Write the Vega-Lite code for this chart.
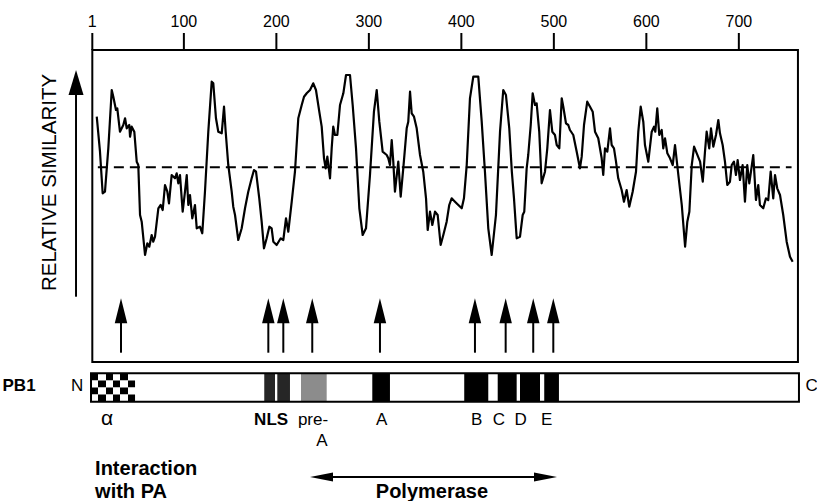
{
"$schema": "https://vega.github.io/schema/vega-lite/v6.json",
"width": 817, "height": 501, "padding": 0,
"autosize": {"type": "none"},
"config": {"view": {"stroke": null}, "font": "Liberation Sans", "text": {"font": "Liberation Sans", "color": "black"}},
"datasets": {
"curve": [
{"pos":5.8,"sim":245.3},{"pos":9.3,"sim":210.3},{"pos":12.2,"sim":168.7},{"pos":14.7,"sim":170.3},{"pos":18.3,"sim":213.7},{"pos":22.0,"sim":272},{"pos":23.7,"sim":265.3},{"pos":26.6,"sim":252},{"pos":28.0,"sim":253.7},{"pos":30.9,"sim":230.3},{"pos":34.5,"sim":237},{"pos":36.4,"sim":243.7},{"pos":38.2,"sim":233.7},{"pos":41.0,"sim":237},{"pos":41.8,"sim":225.3},{"pos":43.6,"sim":235.3},{"pos":46.4,"sim":230.3},{"pos":49.0,"sim":200.3},{"pos":50.7,"sim":197},{"pos":52.6,"sim":147},{"pos":54.4,"sim":140.3},{"pos":58.0,"sim":107},{"pos":60.5,"sim":118.7},{"pos":62.6,"sim":115.3},{"pos":65.2,"sim":127},{"pos":66.9,"sim":120.3},{"pos":68.8,"sim":125.3},{"pos":72.4,"sim":153.7},{"pos":74.9,"sim":157},{"pos":77.1,"sim":152},{"pos":79.6,"sim":177},{"pos":82.1,"sim":170.3},{"pos":83.9,"sim":158.7},{"pos":86.8,"sim":187},{"pos":90.4,"sim":183.7},{"pos":92.2,"sim":188.7},{"pos":94.0,"sim":178.7},{"pos":95.8,"sim":187},{"pos":98.7,"sim":150.3},{"pos":101.2,"sim":170.3},{"pos":103.1,"sim":187},{"pos":104.8,"sim":157},{"pos":106.6,"sim":167},{"pos":109.1,"sim":143.7},{"pos":112.0,"sim":157},{"pos":113.9,"sim":133.7},{"pos":117.4,"sim":135.3},{"pos":119.9,"sim":128.7},{"pos":122.8,"sim":170.3},{"pos":126.4,"sim":230.3},{"pos":130.1,"sim":280.3},{"pos":131.8,"sim":278.7},{"pos":134.7,"sim":243.7},{"pos":137.2,"sim":230.3},{"pos":140.9,"sim":228.7},{"pos":143.4,"sim":255.3},{"pos":145.2,"sim":230.3},{"pos":148.0,"sim":197},{"pos":151.7,"sim":170.3},{"pos":153.4,"sim":155.3},{"pos":155.3,"sim":147},{"pos":158.8,"sim":122},{"pos":162.5,"sim":133.7},{"pos":166.1,"sim":153.7},{"pos":169.6,"sim":170.3},{"pos":173.3,"sim":183.7},{"pos":175.8,"sim":192},{"pos":178.0,"sim":190.3},{"pos":181.5,"sim":163.7},{"pos":184.1,"sim":140.3},{"pos":186.6,"sim":113.7},{"pos":189.5,"sim":123.7},{"pos":192.4,"sim":135.3},{"pos":194.9,"sim":133.7},{"pos":196.7,"sim":120.3},{"pos":200.3,"sim":117},{"pos":204.7,"sim":123.7},{"pos":207.5,"sim":122},{"pos":210.4,"sim":143.7},{"pos":212.9,"sim":130.3},{"pos":216.6,"sim":160.3},{"pos":220.1,"sim":190.3},{"pos":223.7,"sim":243.7},{"pos":227.4,"sim":257},{"pos":229.9,"sim":265.3},{"pos":232.8,"sim":268.7},{"pos":236.4,"sim":272},{"pos":239.9,"sim":278.7},{"pos":242.8,"sim":272},{"pos":246.4,"sim":250.3},{"pos":249.0,"sim":235.3},{"pos":251.5,"sim":203.7},{"pos":253.3,"sim":193.7},{"pos":255.1,"sim":205.3},{"pos":258.0,"sim":183.7},{"pos":259.8,"sim":213.7},{"pos":261.5,"sim":235.3},{"pos":263.4,"sim":227},{"pos":265.9,"sim":227},{"pos":268.8,"sim":257},{"pos":272.4,"sim":268.7},{"pos":275.3,"sim":287},{"pos":279.6,"sim":287},{"pos":282.5,"sim":257},{"pos":286.1,"sim":213.7},{"pos":289.7,"sim":153.7},{"pos":293.3,"sim":127},{"pos":296.9,"sim":133.7},{"pos":301.2,"sim":187},{"pos":305.5,"sim":250.3},{"pos":308.5,"sim":272},{"pos":311.3,"sim":240.3},{"pos":314.9,"sim":210.3},{"pos":319.3,"sim":207},{"pos":321.0,"sim":203.7},{"pos":322.8,"sim":197},{"pos":324.7,"sim":222},{"pos":326.4,"sim":200.3},{"pos":328.2,"sim":170.3},{"pos":331.8,"sim":200.3},{"pos":334.4,"sim":165.3},{"pos":337.2,"sim":193.7},{"pos":340.9,"sim":233.7},{"pos":342.6,"sim":240.3},{"pos":344.5,"sim":270.3},{"pos":346.3,"sim":248.7},{"pos":348.8,"sim":245.3},{"pos":351.7,"sim":233.7},{"pos":355.3,"sim":207},{"pos":358.8,"sim":190.3},{"pos":361.8,"sim":163.7},{"pos":363.6,"sim":132},{"pos":366.1,"sim":150.3},{"pos":368.6,"sim":137},{"pos":371.5,"sim":150.3},{"pos":374.4,"sim":147},{"pos":377.6,"sim":117},{"pos":380.5,"sim":127},{"pos":384.1,"sim":140.3},{"pos":386.9,"sim":157},{"pos":389.5,"sim":163.7},{"pos":393.1,"sim":160.3},{"pos":396.7,"sim":157},{"pos":400.4,"sim":153.7},{"pos":402.8,"sim":163.7},{"pos":405.8,"sim":197},{"pos":409.3,"sim":263.7},{"pos":412.9,"sim":285.3},{"pos":418.3,"sim":285.3},{"pos":422.0,"sim":240.3},{"pos":425.5,"sim":190.3},{"pos":429.1,"sim":133.7},{"pos":432.8,"sim":107},{"pos":437.4,"sim":147},{"pos":441.8,"sim":230.3},{"pos":445.3,"sim":272},{"pos":448.2,"sim":267},{"pos":451.8,"sim":233.7},{"pos":454.6,"sim":190},{"pos":456.9,"sim":163.7},{"pos":459.8,"sim":123.7},{"pos":463.4,"sim":125.3},{"pos":466.3,"sim":147},{"pos":468.0,"sim":150.3},{"pos":470.6,"sim":193.7},{"pos":472.3,"sim":207},{"pos":475.0,"sim":237},{"pos":477.1,"sim":268.7},{"pos":479.6,"sim":257},{"pos":481.4,"sim":258.7},{"pos":484.2,"sim":230.3},{"pos":486.8,"sim":178.7},{"pos":490.4,"sim":190.3},{"pos":492.9,"sim":213.7},{"pos":495.8,"sim":252},{"pos":498.3,"sim":230.3},{"pos":501.2,"sim":227},{"pos":503.1,"sim":217},{"pos":505.9,"sim":213.7},{"pos":508.5,"sim":263.7},{"pos":510.2,"sim":255.3},{"pos":513.1,"sim":238.7},{"pos":515.6,"sim":237},{"pos":517.4,"sim":232},{"pos":521.0,"sim":227},{"pos":524.7,"sim":210.3},{"pos":528.2,"sim":193.7},{"pos":530.1,"sim":205.3},{"pos":532.6,"sim":237},{"pos":536.1,"sim":260.3},{"pos":539.1,"sim":255.3},{"pos":542.0,"sim":250.3},{"pos":544.5,"sim":230.3},{"pos":548.0,"sim":223.7},{"pos":551.7,"sim":203.7},{"pos":553.4,"sim":187},{"pos":555.3,"sim":213.7},{"pos":557.8,"sim":210.3},{"pos":560.7,"sim":233.7},{"pos":562.5,"sim":217},{"pos":565.0,"sim":213.7},{"pos":567.2,"sim":200.3},{"pos":569.6,"sim":183.7},{"pos":573.3,"sim":172},{"pos":575.8,"sim":160.3},{"pos":578.7,"sim":172},{"pos":581.5,"sim":155.3},{"pos":585.2,"sim":170.3},{"pos":588.8,"sim":190.3},{"pos":591.3,"sim":230.3},{"pos":593.9,"sim":255.3},{"pos":596.7,"sim":240.3},{"pos":598.5,"sim":217},{"pos":602.1,"sim":200.3},{"pos":605.8,"sim":230.3},{"pos":608.3,"sim":235.3},{"pos":609.7,"sim":230.3},{"pos":611.8,"sim":253.7},{"pos":614.0,"sim":227},{"pos":616.6,"sim":232},{"pos":618.3,"sim":213.7},{"pos":620.2,"sim":223.7},{"pos":622.7,"sim":208.7},{"pos":625.6,"sim":203.7},{"pos":628.5,"sim":197},{"pos":631.0,"sim":217},{"pos":634.6,"sim":187},{"pos":638.3,"sim":157},{"pos":641.9,"sim":115.3},{"pos":644.3,"sim":140.3},{"pos":646.5,"sim":150.3},{"pos":649.1,"sim":197},{"pos":651.6,"sim":215.3},{"pos":654.5,"sim":208.7},{"pos":658.1,"sim":200.3},{"pos":661.0,"sim":180.3},{"pos":663.4,"sim":210.3},{"pos":665.2,"sim":230.3},{"pos":668.0,"sim":213.7},{"pos":669.9,"sim":233.7},{"pos":672.4,"sim":215.3},{"pos":675.3,"sim":227},{"pos":677.8,"sim":242},{"pos":679.6,"sim":228.7},{"pos":682.5,"sim":217},{"pos":685.0,"sim":200.3},{"pos":687.5,"sim":177},{"pos":690.4,"sim":180.3},{"pos":692.3,"sim":197},{"pos":694.7,"sim":200.3},{"pos":696.9,"sim":187},{"pos":698.7,"sim":202},{"pos":701.2,"sim":182},{"pos":704.1,"sim":197},{"pos":706.6,"sim":160.3},{"pos":709.1,"sim":197},{"pos":711.3,"sim":178.7},{"pos":713.1,"sim":190.3},{"pos":715.6,"sim":207},{"pos":718.5,"sim":162},{"pos":721.0,"sim":177},{"pos":722.8,"sim":157},{"pos":726.4,"sim":153.7},{"pos":729.3,"sim":163.7},{"pos":731.8,"sim":162},{"pos":734.4,"sim":190.3},{"pos":737.2,"sim":163.7},{"pos":739.1,"sim":187},{"pos":741.5,"sim":173.7},{"pos":744.5,"sim":167},{"pos":748.0,"sim":147},{"pos":751.7,"sim":120.3},{"pos":755.3,"sim":105.3},{"pos":758.2,"sim":100.3}
],
"ticks": [{"pos":1},{"pos":100},{"pos":200},{"pos":300},{"pos":400},{"pos":500},{"pos":600},{"pos":700}],
"arrows": [{"pos":32.0},{"pos":191.3},{"pos":207.5},{"pos":238.8},{"pos":312.0},{"pos":414.7},{"pos":447.9},{"pos":477.7},{"pos":499.4}],
"domains": [
{"name":"NLS","start":186.9,"end":198.5,"kind":"NLS"},
{"name":"NLS","start":201.0,"end":214.7,"kind":"NLS"},
{"name":"pre-A","start":226.6,"end":254.4,"kind":"preA"},
{"name":"A","start":303.7,"end":322.8,"kind":"motif"},
{"name":"B","start":403.1,"end":429.1,"kind":"motif"},
{"name":"C","start":439.3,"end":459.8,"kind":"motif"},
{"name":"D","start":463.4,"end":485.0,"kind":"motif"},
{"name":"E","start":489.6,"end":505.5,"kind":"motif"}
],
"alpha": [{"name":"α","start":-0.4,"end":47.2}],
"labels": [{"label":"pre-","pos":239.6},{"label":"A","pos":313.9},{"label":"B","pos":416.6},{"label":"C","pos":440.7},{"label":"D","pos":464.1},{"label":"E","pos":492.2}],
"one": [{"k":1}]
},
"layer": [
{"data":{"name":"one"},"mark":{"type":"rect","fill":"white","stroke":"black","strokeWidth":2},
 "encoding":{"x":{"datum":1,"type":"quantitative","scale":{"domain":[-98.8,784.5],"nice":false,"zero":false},"axis":null},"x2":{"datum":763.9},
 "y":{"datum":0,"type":"quantitative","scale":{"domain":[-139,362],"nice":false,"zero":false},"axis":null},"y2":{"datum":312}}},
{"data":{"name":"ticks"},"mark":{"type":"rule","color":"black","strokeWidth":2},
 "encoding":{"x":{"field":"pos","type":"quantitative","axis":null},"y":{"datum":312,"type":"quantitative","axis":null},"y2":{"datum":329}}},
{"data":{"name":"ticks"},"mark":{"type":"text","fontSize":16,"align":"center","baseline":"alphabetic"},
 "encoding":{"x":{"field":"pos","type":"quantitative","axis":null},"y":{"datum":335.5,"type":"quantitative","axis":null},"text":{"field":"pos","type":"quantitative","format":"d"}}},
{"data":{"name":"one"},"mark":{"type":"rule","strokeDash":[10,6],"strokeWidth":2,"color":"black"},
 "encoding":{"x":{"datum":7,"type":"quantitative","axis":null},"x2":{"datum":757},"y":{"datum":194.7,"type":"quantitative","axis":null}}},
{"data":{"name":"curve"},"mark":{"type":"line","color":"black","strokeWidth":2.2,"strokeJoin":"round"},
 "encoding":{"x":{"field":"pos","type":"quantitative","scale":{"domain":[-98.8,784.5],"nice":false,"zero":false},"axis":null},
  "y":{"field":"sim","type":"quantitative","scale":{"domain":[-139,362],"nice":false,"zero":false},"axis":null}}},
{"data":{"name":"arrows"},"mark":{"type":"rule","color":"black","strokeWidth":2},
 "encoding":{"x":{"field":"pos","type":"quantitative","axis":null},"y":{"datum":40,"type":"quantitative","axis":null},"y2":{"datum":9.3}}},
{"data":{"name":"arrows"},"mark":{"type":"point","filled":true,"color":"black","opacity":1,"shape":"M0,-1L0.5,1L-0.5,1Z","size":625,"strokeWidth":0},
 "encoding":{"x":{"field":"pos","type":"quantitative","axis":null},"y":{"datum":51.2,"type":"quantitative","axis":null}}},
{"data":{"name":"one"},"mark":{"type":"rule","color":"black","strokeWidth":2},
 "encoding":{"x":{"datum":-16.6,"type":"quantitative","axis":null},"y":{"datum":268,"type":"quantitative","axis":null},"y2":{"datum":65.3}}},
{"data":{"name":"one"},"mark":{"type":"point","filled":true,"color":"black","opacity":1,"shape":"M0,-1L0.6,1L-0.6,1Z","size":625,"strokeWidth":0},
 "encoding":{"x":{"datum":-16.6,"type":"quantitative","axis":null},"y":{"datum":279.5,"type":"quantitative","axis":null}}},
{"data":{"name":"one"},"mark":{"type":"text","text":"RELATIVE SIMILARITY","angle":270,"fontSize":20.5,"align":"center","baseline":"middle"},
 "encoding":{"x":{"datum":-44.7,"type":"quantitative","axis":null},"y":{"datum":179.5,"type":"quantitative","axis":null}}},
{"data":{"name":"one"},"mark":{"type":"rect","fill":"white"},
 "encoding":{"x":{"datum":-0.4,"type":"quantitative","axis":null},"x2":{"datum":765},"y":{"datum":-11.3,"type":"quantitative","axis":null},"y2":{"datum":-39.7}}},
{"data":{"name":"domains"},"mark":{"type":"rect"},
 "encoding":{"x":{"field":"start","type":"quantitative","axis":null},"x2":{"field":"end"},"y":{"datum":-11.3,"type":"quantitative","axis":null},"y2":{"datum":-39.7},
  "color":{"field":"kind","type":"nominal","scale":{"domain":["NLS","preA","motif"],"range":["#262626","#8c8c8c","#000000"]},"legend":null}}},
{"data":{"name":"alpha"},"mark":{"type":"rect","fill":{"gradient":"linear","x1":0,"x2":1,"y1":0,"y2":0,"stops":[{"offset":0,"color":"black"},{"offset":0.1667,"color":"black"},{"offset":0.1667,"color":"white"},{"offset":0.3333,"color":"white"},{"offset":0.3333,"color":"black"},{"offset":0.5,"color":"black"},{"offset":0.5,"color":"white"},{"offset":0.6667,"color":"white"},{"offset":0.6667,"color":"black"},{"offset":0.8333,"color":"black"},{"offset":0.8333,"color":"white"},{"offset":1,"color":"white"}]}},
 "encoding":{"x":{"field":"start","type":"quantitative","axis":null},"x2":{"field":"end"},"y":{"datum":-11.3,"type":"quantitative","axis":null},"y2":{"datum":-18.4}}},
{"data":{"name":"alpha"},"mark":{"type":"rect","fill":{"gradient":"linear","x1":0,"x2":1,"y1":0,"y2":0,"stops":[{"offset":0,"color":"white"},{"offset":0.1667,"color":"white"},{"offset":0.1667,"color":"black"},{"offset":0.3333,"color":"black"},{"offset":0.3333,"color":"white"},{"offset":0.5,"color":"white"},{"offset":0.5,"color":"black"},{"offset":0.6667,"color":"black"},{"offset":0.6667,"color":"white"},{"offset":0.8333,"color":"white"},{"offset":0.8333,"color":"black"},{"offset":1,"color":"black"}]}},
 "encoding":{"x":{"field":"start","type":"quantitative","axis":null},"x2":{"field":"end"},"y":{"datum":-18.4,"type":"quantitative","axis":null},"y2":{"datum":-25.5}}},
{"data":{"name":"alpha"},"mark":{"type":"rect","fill":{"gradient":"linear","x1":0,"x2":1,"y1":0,"y2":0,"stops":[{"offset":0,"color":"black"},{"offset":0.1667,"color":"black"},{"offset":0.1667,"color":"white"},{"offset":0.3333,"color":"white"},{"offset":0.3333,"color":"black"},{"offset":0.5,"color":"black"},{"offset":0.5,"color":"white"},{"offset":0.6667,"color":"white"},{"offset":0.6667,"color":"black"},{"offset":0.8333,"color":"black"},{"offset":0.8333,"color":"white"},{"offset":1,"color":"white"}]}},
 "encoding":{"x":{"field":"start","type":"quantitative","axis":null},"x2":{"field":"end"},"y":{"datum":-25.5,"type":"quantitative","axis":null},"y2":{"datum":-32.6}}},
{"data":{"name":"alpha"},"mark":{"type":"rect","fill":{"gradient":"linear","x1":0,"x2":1,"y1":0,"y2":0,"stops":[{"offset":0,"color":"white"},{"offset":0.1667,"color":"white"},{"offset":0.1667,"color":"black"},{"offset":0.3333,"color":"black"},{"offset":0.3333,"color":"white"},{"offset":0.5,"color":"white"},{"offset":0.5,"color":"black"},{"offset":0.6667,"color":"black"},{"offset":0.6667,"color":"white"},{"offset":0.8333,"color":"white"},{"offset":0.8333,"color":"black"},{"offset":1,"color":"black"}]}},
 "encoding":{"x":{"field":"start","type":"quantitative","axis":null},"x2":{"field":"end"},"y":{"datum":-32.6,"type":"quantitative","axis":null},"y2":{"datum":-39.7}}},
{"data":{"name":"one"},"mark":{"type":"rect","fill":"transparent","stroke":"black","strokeWidth":2},
 "encoding":{"x":{"datum":-0.4,"type":"quantitative","axis":null},"x2":{"datum":765},"y":{"datum":-11.3,"type":"quantitative","axis":null},"y2":{"datum":-39.7}}},
{"data":{"name":"one"},"mark":{"type":"text","text":"PB1","fontSize":17,"fontWeight":"bold","align":"center","baseline":"middle"},
 "encoding":{"x":{"datum":-78.2,"type":"quantitative","axis":null},"y":{"datum":-24,"type":"quantitative","axis":null}}},
{"data":{"name":"one"},"mark":{"type":"text","text":"N","fontSize":17,"align":"center","baseline":"middle"},
 "encoding":{"x":{"datum":-15.5,"type":"quantitative","axis":null},"y":{"datum":-24,"type":"quantitative","axis":null}}},
{"data":{"name":"one"},"mark":{"type":"text","text":"C","fontSize":17,"align":"center","baseline":"middle"},
 "encoding":{"x":{"datum":778.8,"type":"quantitative","axis":null},"y":{"datum":-24,"type":"quantitative","axis":null}}},
{"data":{"name":"one"},"mark":{"type":"text","text":"α","fontSize":21,"align":"center","baseline":"middle"},
 "encoding":{"x":{"datum":16.9,"type":"quantitative","axis":null},"y":{"datum":-57,"type":"quantitative","axis":null}}},
{"data":{"name":"labels"},"mark":{"type":"text","fontSize":17,"align":"center","baseline":"middle"},
 "encoding":{"x":{"field":"pos","type":"quantitative","axis":null},"y":{"datum":-58,"type":"quantitative","axis":null},"text":{"field":"label","type":"nominal"}}},
{"data":{"name":"one"},"mark":{"type":"text","text":"NLS","fontSize":17,"fontWeight":"bold","align":"center","baseline":"middle"},
 "encoding":{"x":{"datum":194.3,"type":"quantitative","axis":null},"y":{"datum":-58,"type":"quantitative","axis":null}}},
{"data":{"name":"one"},"mark":{"type":"text","text":"A","fontSize":17,"align":"center","baseline":"middle"},
 "encoding":{"x":{"datum":249.3,"type":"quantitative","axis":null},"y":{"datum":-79,"type":"quantitative","axis":null}}},
{"data":{"name":"one"},"mark":{"type":"text","text":"Interaction","fontSize":20,"fontWeight":"bold","align":"left","baseline":"alphabetic"},
 "encoding":{"x":{"datum":4.0,"type":"quantitative","axis":null},"y":{"datum":-113,"type":"quantitative","axis":null}}},
{"data":{"name":"one"},"mark":{"type":"text","text":"with PA","fontSize":20,"fontWeight":"bold","align":"left","baseline":"alphabetic"},
 "encoding":{"x":{"datum":4.0,"type":"quantitative","axis":null},"y":{"datum":-136,"type":"quantitative","axis":null}}},
{"data":{"name":"one"},"mark":{"type":"text","text":"Polymerase","fontSize":20,"fontWeight":"bold","align":"center","baseline":"alphabetic"},
 "encoding":{"x":{"datum":368.2,"type":"quantitative","axis":null},"y":{"datum":-136,"type":"quantitative","axis":null}}},
{"data":{"name":"one"},"mark":{"type":"rule","color":"black","strokeWidth":2},
 "encoding":{"x":{"datum":245,"type":"quantitative","axis":null},"x2":{"datum":495},"y":{"datum":-115,"type":"quantitative","axis":null}}},
{"data":{"name":"one"},"mark":{"type":"point","filled":true,"color":"black","opacity":1,"shape":"M-1,0L1,-0.4L1,0.4Z","size":529,"strokeWidth":0},
 "encoding":{"x":{"datum":248.8,"type":"quantitative","axis":null},"y":{"datum":-115,"type":"quantitative","axis":null}}},
{"data":{"name":"one"},"mark":{"type":"point","filled":true,"color":"black","opacity":1,"shape":"M1,0L-1,-0.4L-1,0.4Z","size":529,"strokeWidth":0},
 "encoding":{"x":{"datum":491,"type":"quantitative","axis":null},"y":{"datum":-115,"type":"quantitative","axis":null}}}
]
}
